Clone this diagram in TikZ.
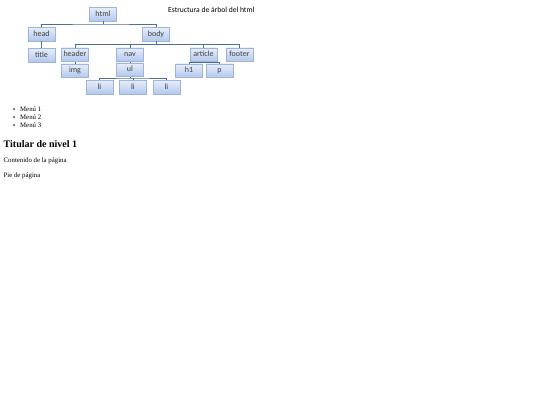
\documentclass[tikz,border=0pt]{standalone}
\usepackage{fontspec}
\setmainfont{Liberation Serif}
\newfontfamily\diagfont{Carlito}
\usetikzlibrary{shadings}
\definecolor{boxtop}{HTML}{E8EEF9}
\definecolor{boxbot}{HTML}{B2C8EE}
\definecolor{boxline}{HTML}{9FB4D8}
\definecolor{conn}{HTML}{4C6F98}
\definecolor{boxtext}{HTML}{404040}
\definecolor{shade}{HTML}{C8C8C8}
\tikzset{
  treebox/.style={draw=boxline, line width=0.5bp, top color=boxtop, bottom color=boxbot,
    minimum width=27bp, minimum height=13.5bp, inner sep=0pt, text=boxtext,
    text height=5.6bp, text depth=1.6bp,
    font=\diagfont\fontsize{8bp}{9bp}\selectfont},
  conline/.style={draw=conn, line width=0.9bp},
  pagetext/.style={anchor=base west, inner sep=0pt, font=\fontsize{6.8bp}{8bp}\selectfont},
  bulletdot/.style={circle, fill=black, inner sep=0pt, minimum size=1.8bp}
}
\begin{document}
\begin{tikzpicture}[x=1bp,y=-1bp]
\useasboundingbox[fill=white] (0,0) rectangle (540,405);
% boxes
\node[treebox] (html) at (103,14) {html};
\node[treebox] (head) at (41.5,34) {head};
\node[treebox] (body) at (156,34) {body};
\node[treebox] (title) at (41.5,55) {title};
\node[treebox] (header) at (75,54.5) {header};
\node[treebox] (nav) at (130,54.5) {nav};
\node[treebox] (article) at (203.5,54.5) {article};
\node[treebox] (footer) at (239.5,54.5) {footer};
\node[treebox] (img) at (75,70.5) {img};
\node[treebox] (ul) at (130,69.5) {ul};
\node[treebox] (h1) at (189,70.5) {h1};
\node[treebox] (p) at (219.5,70.5) {p};
\node[treebox] (li1) at (99.5,87) {li};
\node[treebox] (li2) at (133,87) {li};
\node[treebox] (li3) at (166.5,87) {li};
% junctions
\coordinate (j1) at (103,24);
\coordinate (j2) at (156,44.5);
\coordinate (j3) at (203.5,62.5);
\coordinate (j4) at (133,78);
% connectors
\draw[conline] (html.south) -- (j1);
\draw[conline] (head.north) |- (j1) -| (body.north);
\draw[conline] (head.south) -- (title.north);
\draw[conline] (body.south) -- (j2);
\draw[conline] (header.north) |- (j2) -| (footer.north);
\draw[conline] (nav.north) -- (nav.north |- j2);
\draw[conline] (article.north) -- (article.north |- j2);
\draw[conline] (header.south) -- (img.north);
\draw[conline] (nav.south) -- (ul.north);
\draw[conline] (article.south) -- (j3);
\draw[conline] (h1.north) |- (j3) -| (p.north);
\draw[conline] (ul.south) -- (ul.south |- j4);
\draw[conline] (li1.north) |- (j4) -| (li3.north);
\draw[conline] (li2.north) -- (li2.north |- j4);
% caption
\node[anchor=base west, inner sep=0pt, font=\diagfont\fontsize{7.6bp}{9bp}\selectfont] (cap) at (168,12) {Estructura de árbol del html};
% page text
\node[bulletdot] (b1) at (14,109) {};
\node[bulletdot] (b2) at (14,117) {};
\node[bulletdot] (b3) at (14,125) {};
\node[pagetext] (m1) at (20,111.5) {Menú 1};
\node[pagetext] (m2) at (20,119.5) {Menú 2};
\node[pagetext] (m3) at (20,127.5) {Menú 3};
\node[anchor=base west, inner sep=0pt, font=\bfseries\fontsize{10bp}{12bp}\selectfont] (h) at (3.5,147.5) {Titular de nivel 1};
\node[pagetext] (c) at (3.5,162.5) {Contenido de la página};
\node[pagetext] (f) at (3.5,177) {Pie de página};
\end{tikzpicture}
\end{document}
